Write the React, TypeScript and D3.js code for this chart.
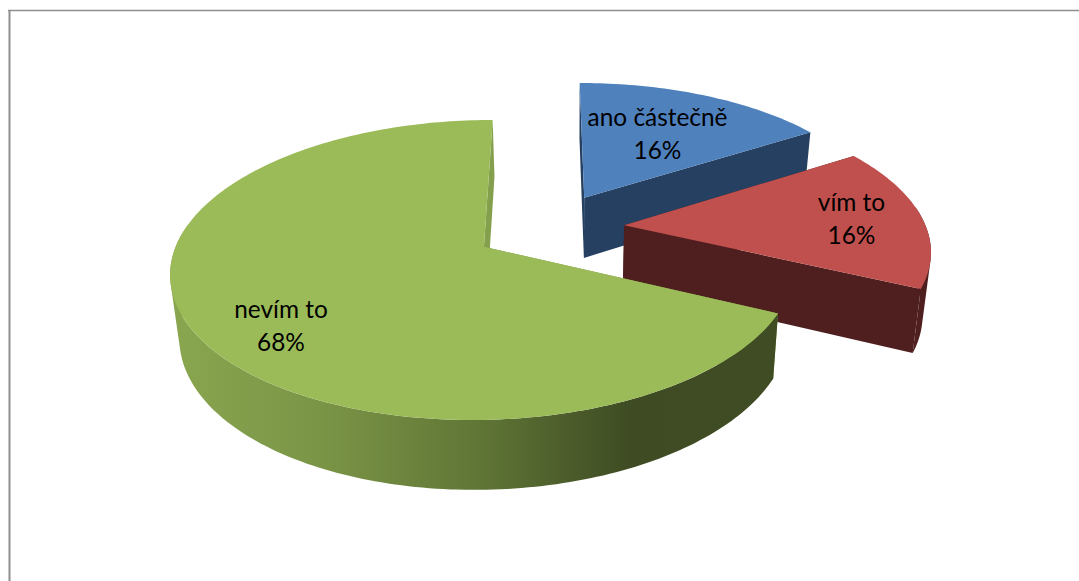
import React from "react";
import * as d3 from "d3";

const categories = ["ano částečně", "vím to", "nevím to"];
const values = [16, 16, 68];
const percentLabels = ["16%", "16%", "68%"];
const topColors = ["#4f81bd", "#c0504d", "#9bbb59"];
const wallColors = ["#254061", "#4f1f1f", "url(#greenWall)"];
const cutColors = ["#254061", "#4f1f1f", "#85a04c"];
const labelCenters: [number, number][] = [[657.5, 126], [851.5, 210.5], [281, 318]];
const greenStops: [number, string][] = [[0, "#89a64f"], [0.25, "#7a9446"], [0.5, "#607636"], [0.7, "#455427"], [0.76, "#3e4b23"], [1, "#3f4c24"]];

const W = 1079, H = 581;
const explode = 0.25;
const k = 0.152;

type P = [number, number];
const project = (u: number, v: number, bottom: boolean): P => {
  const w = 1 - k * v;
  return bottom
    ? [549.5 + (295 * u) / w, 289 + (146.6 * v) / w]
    : [549 + (302 * u) / w, 227.5 + (140.5 * v) / w];
};

const pie = d3.pie<number>().sort(null).startAngle(0).endAngle(2 * Math.PI);
const line = d3.line<P>().x((d) => d[0]).y((d) => d[1]);

function quadPath(q: P[]) {
  const area = d3.polygonArea(q);
  return line(area < 0 ? [...q].reverse() : q)! + "Z";
}

function slicePaths(start: number, end: number) {
  const mid = (start + end) / 2;
  const ou = explode * Math.sin(mid), ov = -explode * Math.cos(mid);
  const steps = Math.ceil((end - start) / 0.02);
  const angles = d3.range(steps + 1).map((i) => start + ((end - start) * i) / steps);
  const at = (a: number, b: boolean) => project(ou + Math.sin(a), ov - Math.cos(a), b);
  const tip = (b: boolean) => project(ou, ov, b);
  // Outer wall: swept quads, only where the rim faces the viewer.
  const wall = d3.pairs(angles)
    .filter(([a]) => -Math.cos(a) > -0.15)
    .map(([a, b]) => quadPath([at(a, false), at(b, false), at(b, true), at(a, true)]))
    .join("");
  return {
    top: line([tip(false), ...angles.map((a) => at(a, false))])! + "Z",
    wall,
    cutA: quadPath([tip(false), at(start, false), at(start, true), tip(true)]),
    cutB: quadPath([tip(false), at(end, false), at(end, true), tip(true)]),
  };
}

export default function App() {
  const arcs = pie(values);
  return (
    <svg width={W} height={H} viewBox={`0 0 ${W} ${H}`} style={{ position: "fixed", left: 0, top: 0, background: "#fff" }}>
      <defs>
        <linearGradient id="greenWall" gradientUnits="userSpaceOnUse" x1={172} x2={782} y1={0} y2={0}>
          {greenStops.map(([o, c]) => <stop key={o} offset={o} stopColor={c} />)}
        </linearGradient>
      </defs>
      <line x1={9.5} x2={9.5} y1={10} y2={H} stroke="#8e8e8e" strokeWidth={2} />
      <line x1={8} x2={W} y1={10.5} y2={10.5} stroke="#8e8e8e" strokeWidth={1.5} />
      {arcs.map((a, i) => {
        const p = slicePaths(a.startAngle, a.endAngle);
        return (
          <g key={categories[i]}>
            <path d={p.cutA} fill={cutColors[i]} />
            <path d={p.cutB} fill={cutColors[i]} />
            <path d={p.wall} fill={wallColors[i]} />
            <path d={p.top} fill={topColors[i]} />
          </g>
        );
      })}
      {categories.map((c, i) => (
        <text key={c} textAnchor="middle" fontFamily="Lato, 'Open Sans', sans-serif" fontSize={24.4} fill="#000">
          <tspan x={labelCenters[i][0]} y={labelCenters[i][1]}>{c}</tspan>
          <tspan x={labelCenters[i][0]} y={labelCenters[i][1] + 33}>{percentLabels[i]}</tspan>
        </text>
      ))}
    </svg>
  );
}
